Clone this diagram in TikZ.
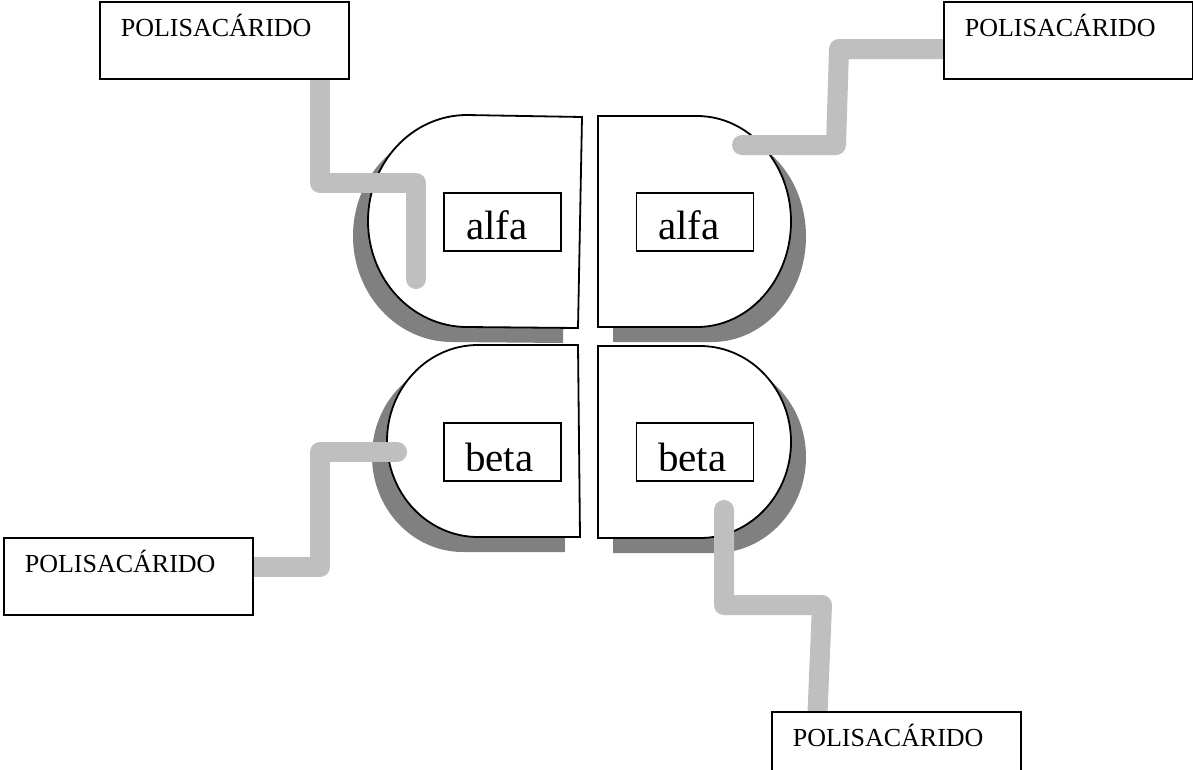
\documentclass[tikz,border=0pt]{standalone}
\usepackage{fontspec}
\setmainfont{Liberation Serif}
\begin{document}
\begin{tikzpicture}[x=1pt,y=-1pt,
  shade/.style={fill=black!50,draw=none},
  lobe/.style={fill=white,draw=black,line width=1.8pt,line join=miter},
  conn/.style={draw=black!25,line width=20pt,line cap=round,line join=round},
  pbox/.style={draw=black,fill=white,line width=1.7pt,anchor=north west,
    inner xsep=21pt,inner ysep=0pt,text width=207pt,align=left,
    text height=35pt,text depth=42pt,font=\fontsize{26}{30}\selectfont},
  gbox/.style={draw=black,line width=1.7pt,fill=white,minimum width=117pt,minimum height=58pt,inner sep=0pt},
  gtext/.style={anchor=base west,inner sep=0pt,font=\fontsize{41}{46}\selectfont}]
\useasboundingbox[fill=white] (0,0) rectangle (1193,769);

% shadows
\begin{scope}[shift={(-15,15)}]
  \path[shade] (582,117) -- (467,115) arc[start angle=-90,end angle=-270,x radius=99,y radius=106] -- (578,328) -- cycle;
  \path[shade] (578,345) -- (478,345) arc[start angle=-90,end angle=-270,x radius=91,y radius=96] -- (580,537) -- cycle;
\end{scope}
\begin{scope}[shift={(15,15)}]
  \path[shade] (598,116) -- (697,116) arc[start angle=-90,end angle=90,x radius=94,y radius=105.5] -- (598,327) -- cycle;
  \path[shade] (598,346) -- (700,346) arc[start angle=-90,end angle=90,x radius=91,y radius=96] -- (598,538) -- cycle;
\end{scope}

% lobes
\path[lobe] (582,117) -- (467,115) arc[start angle=-90,end angle=-270,x radius=99,y radius=106] -- (578,328) -- cycle;
\path[lobe] (598,116) -- (697,116) arc[start angle=-90,end angle=90,x radius=94,y radius=105.5] -- (598,327) -- cycle;
\path[lobe] (578,345) -- (478,345) arc[start angle=-90,end angle=-270,x radius=91,y radius=96] -- (580,537) -- cycle;
\path[lobe] (598,346) -- (700,346) arc[start angle=-90,end angle=90,x radius=91,y radius=96] -- (598,538) -- cycle;

% alfa / beta boxes
\node[gbox] (ga1) at (502.5,222) {};
\node[gbox] (ga2) at (695,222) {};
\node[gbox] (gb1) at (502.5,452) {};
\node[gbox] (gb2) at (695,452) {};
\begin{scope}
  \clip (445,195) rectangle (560,239.5);
  \node[gtext] (ta1) at (466,239) {alfa};
\end{scope}
\begin{scope}
  \clip (638,195) rectangle (752,239.5);
  \node[gtext] (ta2) at (658,239) {alfa};
\end{scope}
\begin{scope}
  \clip (445,425) rectangle (560,470);
  \node[gtext] (tb1) at (465,471) {beta};
\end{scope}
\begin{scope}
  \clip (638,425) rectangle (752,470);
  \node[gtext] (tb2) at (658,471) {beta};
\end{scope}

% connector end points
\coordinate (s1) at (320,60);
\coordinate (e1) at (416,279);
\coordinate (s2) at (960,49);
\coordinate (e2) at (742,145);
\coordinate (s3) at (240,567);
\coordinate (e3) at (397,452);
\coordinate (e4) at (724,510);
\coordinate (s4) at (817,725);

% connectors
\draw[conn] (s1) -- (320,183) -- (416,183) -- (e1);
\draw[conn] (s2) -- (839,49) -- (836,145) -- (e2);
\draw[conn] (s3) -- (320,567) -- (320,452) -- (e3);
\draw[conn] (e4) -- (724,605) -- (822,605) -- (s4);

% label boxes
\node[pbox] (p1) at (99,1) {POLISACÁRIDO};
\node[pbox] (p2) at (943,1) {POLISACÁRIDO};
\node[pbox] (p3) at (3,537) {POLISACÁRIDO};
\node[pbox] (p4) at (771,711) {POLISACÁRIDO};
\end{tikzpicture}
\end{document}
